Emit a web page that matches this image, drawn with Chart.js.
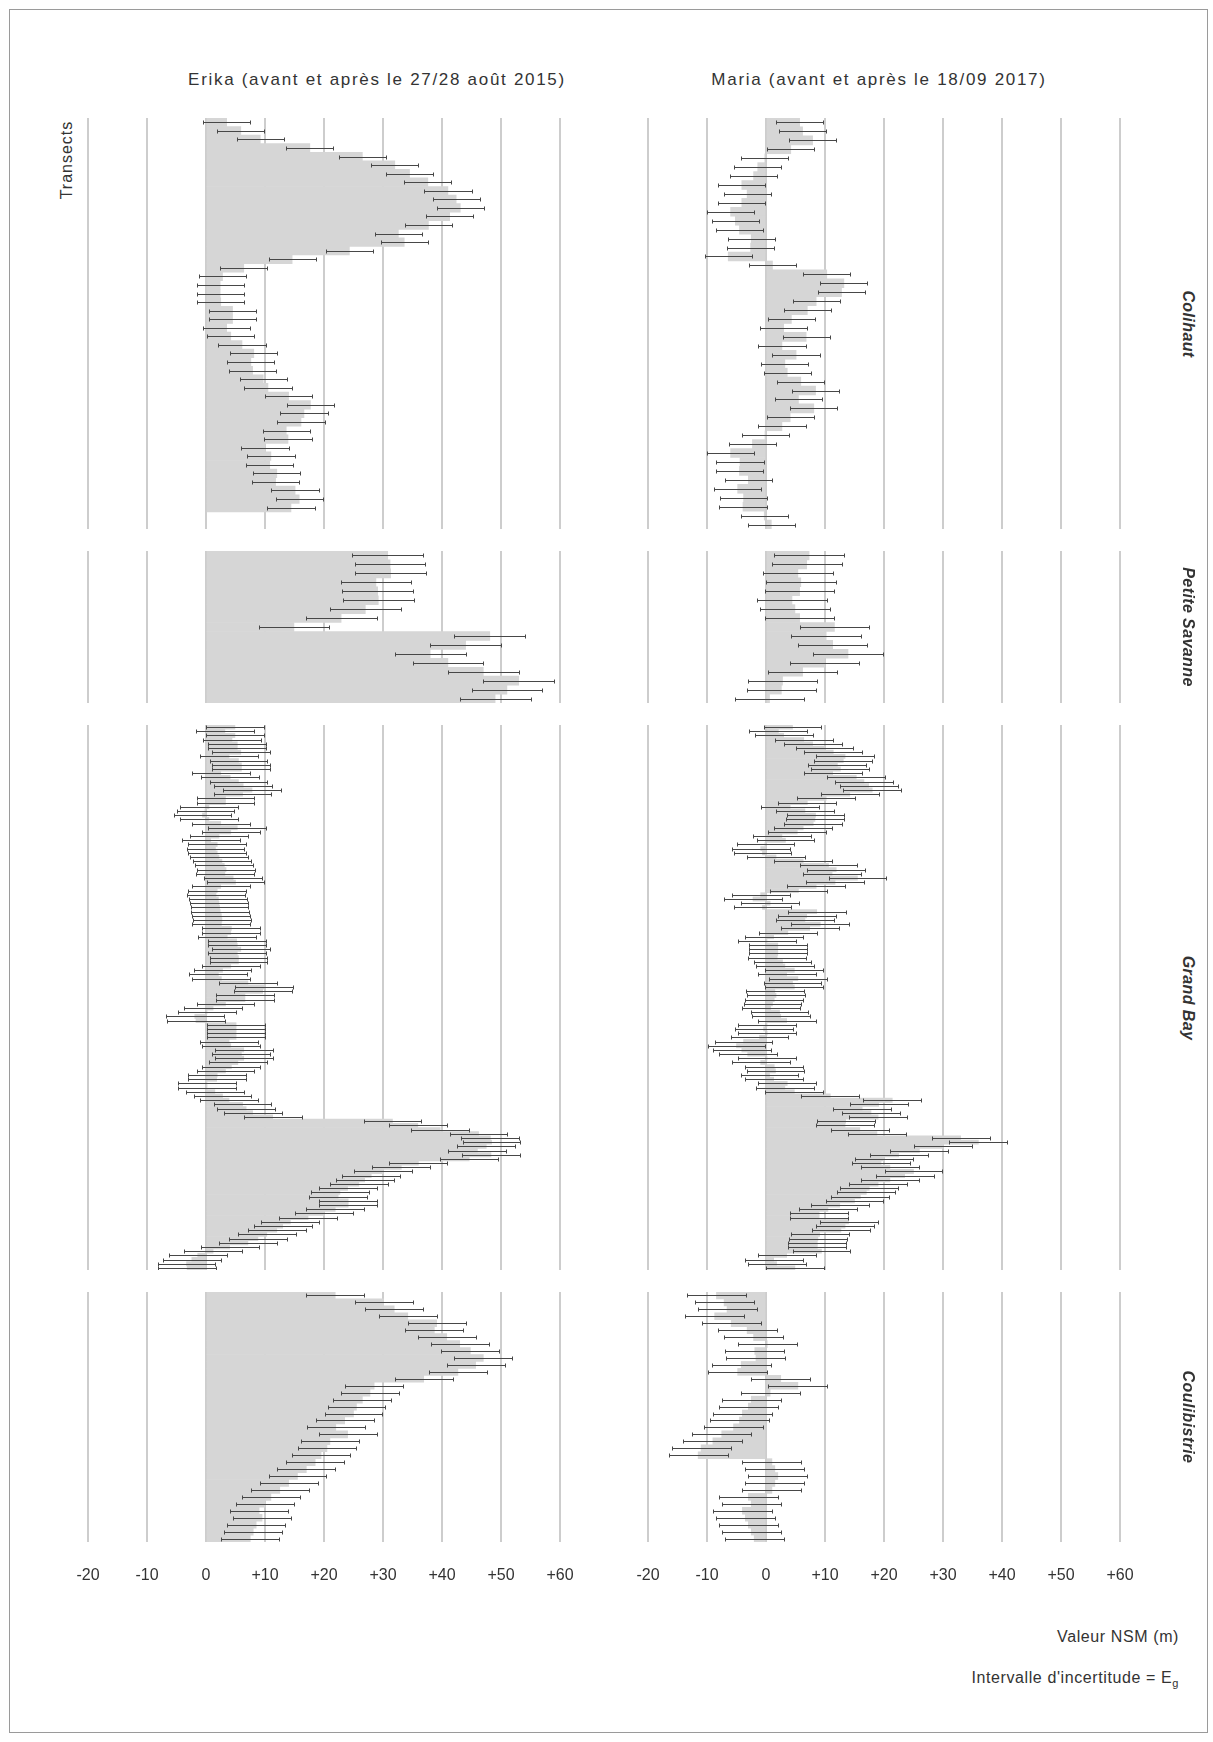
<!DOCTYPE html>
<html lang="fr">
<head>
<meta charset="utf-8">
<title>NSM Erika / Maria</title>
<script src="https://cdn.jsdelivr.net/npm/chart.js@4.4.1/dist/chart.umd.min.js"></script>
<style>
  body { margin: 0; background: #fff; }
  #fig { position: relative; width: 1213px; height: 1742px; font-family: "Liberation Sans", Arial, sans-serif; color: #333; }
  #frame { position: absolute; left: 9px; top: 9px; width: 1197px; height: 1722px; border: 1px solid #9a9a9a; }
  .pan { position: absolute; }
  .txt { position: absolute; white-space: nowrap; font-size: 16px; letter-spacing: 0.6px; }
  .title { font-size: 17px; letter-spacing: 1.7px; }
  .site { position: absolute; white-space: nowrap; font-size: 16px; font-style: italic; font-weight: bold;
          letter-spacing: 0.4px; transform: translate(-50%, -50%) rotate(90deg); }
</style>
</head>
<body>
<div id="fig">
  <div id="frame"></div>
  <div class="txt title" style="left:377px;top:80px;transform:translate(-50%,-50%)">Erika (avant et après le 27/28 août 2015)</div>
  <div class="txt title" style="left:879px;top:80px;transform:translate(-50%,-50%)">Maria (avant et après le 18/09 2017)</div>
  <div class="txt" style="left:67px;top:160px;transform:translate(-50%,-50%) rotate(-90deg);letter-spacing:1px">Transects</div>
  <div class="txt" style="right:34px;top:1628px">Valeur NSM (m)</div>
  <div class="txt" style="right:34px;top:1669px">Intervalle d'incertitude = E<sub style="font-size:11px">g</sub></div>
</div>
<script>
// NSM values per transect (m), read top to bottom
const colihautErika = [3.5, 5.9, 9.2, 17.6, 26.5, 32.0, 34.5, 37.6, 41.0, 42.4, 43.1, 41.3, 37.7, 32.6, 33.6, 24.3,
  14.6, 6.4, 2.8, 2.4, 2.4, 2.5, 4.5, 4.5, 3.5, 4.2, 6.1, 8.1, 7.6, 7.9, 9.7, 10.5, 14.0, 17.7, 16.6, 16.1, 13.6,
  13.9, 10.0, 11.0, 10.8, 12.0, 11.8, 15.1, 15.8, 14.4, null, null];
const colihautMaria = [5.7, 6.2, 7.9, 4.2, -0.2, -1.4, -2.1, -4.1, -3.2, -4.1, -6.0, -5.2, -4.5, -2.5, -2.6, -6.4,
  1.1, 10.3, 13.2, 12.8, 8.5, 7.0, 4.3, 3.0, 6.8, 2.7, 5.1, 3.2, 3.6, 5.9, 8.4, 5.5, 8.1, 4.1, 2.7, -0.1, -2.3,
  -6.0, -4.4, -4.5, -3.0, -4.8, -3.8, -3.9, -0.3, 0.9];

const petiteSavanneErika = [30.8, 31.2, 31.3, 28.8, 29.1, 29.2, 27.0, 22.9, 14.9, 48.1, 44.0, 38.0, 41.0, 47.0,
  53.0, 51.0, 49.0];
const petiteSavanneMaria = [7.3, 6.9, 5.4, 5.9, 5.7, 4.4, 4.9, 5.7, 11.6, 10.2, 11.3, 13.9, 9.9, 6.2, 2.8, 2.6, 0.6];

const grandBayErika = [4.9, 3.2, 4.9, 4.4, 5.3, 5.3, 5.9, 3.9, 5.5, 6.0, 6.0, 2.5, 4.1, 5.5, 6.3, 7.8, 6.2, 3.3,
  3.3, 0.5, -0.1, -0.6, 0.5, 2.5, 5.3, 4.2, 2.2, 0.8, 1.9, 1.6, 1.9, 2.2, 2.7, 3.1, 3.4, 3.2, 4.6, 5.0, 2.5, 1.9,
  1.7, 2.1, 2.2, 2.3, 2.4, 2.6, 2.7, 2.6, 4.3, 4.2, 3.6, 5.2, 5.3, 5.9, 5.3, 5.5, 5.5, 4.2, 2.8, 2.1, 2.6, 7.1,
  9.8, 9.6, 6.6, 6.6, 3.3, 1.2, 0.1, -1.9, -1.7, 5.1, 5.1, 5.1, 5.1, 3.9, 4.2, 6.4, 6.0, 6.4, 5.4, 4.3, 3.3, 1.9,
  1.8, 0.1, 0.1, 1.5, 2.8, 3.9, 6.2, 6.8, 7.9, 11.3, 31.6, 35.9, 39.7, 46.2, 48.2, 48.4, 47.5, 46.0, 48.3, 44.6,
  36.0, 33.1, 30.0, 28.0, 26.9, 25.9, 24.0, 22.7, 22.4, 24.1, 24.1, 21.9, 20.0, 17.3, 14.3, 13.0, 12.0, 10.3, 8.8,
  7.1, 4.0, 1.2, -1.4, -2.4, -3.3, -3.2];
const grandBayMaria = [4.5, 2.1, 3.0, 6.4, 7.9, 9.9, 11.4, 13.4, 13.1, 12.1, 12.6, 11.3, 15.3, 16.6, 17.4, 18.0,
  14.2, 10.2, 7.0, 4.1, 6.6, 8.4, 8.3, 8.0, 6.3, 5.3, 2.7, 3.3, -0.1, -0.9, -0.6, 1.7, 6.3, 10.6, 11.9, 11.2,
  15.5, 11.7, 8.5, 5.5, -0.9, -2.2, 0.7, -0.6, 8.6, 6.9, 6.6, 9.2, 7.4, 3.7, 1.3, 0.1, 2.0, 2.0, 2.0, 1.9, 2.8,
  3.2, 4.8, 3.5, 5.4, 4.5, 4.8, 1.5, 1.7, 1.4, 1.1, 0.8, 2.3, 2.5, 3.5, 0.1, -0.4, 0.2, -1.1, -3.8, -5.0, -4.1,
  -3.1, 0.1, -0.9, 1.4, 1.6, 0.6, 1.3, 3.6, 3.2, 4.8, 10.9, 21.4, 19.1, 16.3, 17.8, 19.0, 13.5, 13.4, 15.9, 18.8,
  33.0, 36.0, 30.0, 26.0, 22.5, 20.0, 19.5, 21.0, 25.0, 23.5, 21.0, 19.0, 17.5, 17.0, 16.0, 15.0, 12.5, 10.5,
  9.0, 9.0, 14.0, 13.4, 12.7, 9.1, 8.8, 8.7, 8.7, 9.4, 3.5, 1.3, 1.8, 4.9];

const coulibistrieErika = [21.9, 30.1, 31.9, 34.2, 39.1, 38.7, 40.8, 43.0, 44.8, 47.0, 45.7, 42.7, 36.9, 28.5,
  27.8, 26.5, 25.5, 25.0, 23.5, 22.0, 24.0, 21.0, 20.5, 19.5, 18.5, 17.0, 15.5, 14.0, 12.5, 11.0, 10.0, 9.0, 9.5,
  8.5, 8.0, 7.5];
const coulibistrieMaria = [-8.4, -7.1, -6.6, -8.7, -5.9, -3.2, -2.1, 0.2, -1.9, -1.7, -4.2, -4.8, 2.5, 5.4, 0.7,
  -2.5, -3.0, -4.0, -4.5, -5.5, -7.5, -9.0, -11.0, -11.5, 1.0, 1.5, 2.0, 1.5, 1.0, -3.0, -2.5, -4.0, -3.5, -3.0,
  -2.5, -2.0];

// half-width of the uncertainty interval (Eg), per panel
const egErika = [4.0, 6.0, 4.9, 4.9];
const egMaria = [4.0, 5.9, 4.9, 5.0];

const sites = ['Colihaut', 'Petite Savanne', 'Grand Bay', 'Coulibistrie'];
const xTicks = [-20, -10, 0, 10, 20, 30, 40, 50, 60];

// panel layout (px)
const rowBox = [
  { top: 118, h: 411 },
  { top: 551, h: 152 },
  { top: 725, h: 545 },
  { top: 1292, h: 250 }
];
const pad = 45;
const colLeft = [88 - pad, 648 - pad];
const colW = 472 + 2 * pad;
const tickBand = 60;

const errorBars = {
  id: 'errorBars',
  afterDatasetsDraw(chart, args, opts) {
    const ctx = chart.ctx;
    const x = chart.scales.x;
    const vals = chart.data.datasets[0].data;
    const meta = chart.getDatasetMeta(0);
    ctx.save();
    ctx.strokeStyle = '#474747';
    ctx.lineWidth = 1;
    meta.data.forEach((bar, i) => {
      const v = vals[i];
      if (v === null || v === undefined) return;
      const x0 = Math.round(x.getPixelForValue(v - opts.eg)) + 0.5;
      const x1 = Math.round(x.getPixelForValue(v + opts.eg)) + 0.5;
      const y = Math.round(bar.y) + 0.5;
      ctx.beginPath();
      ctx.moveTo(x0, y); ctx.lineTo(x1, y);
      ctx.moveTo(x0, y - 2); ctx.lineTo(x0, y + 2);
      ctx.moveTo(x1, y - 2); ctx.lineTo(x1, y + 2);
      ctx.stroke();
    });
    ctx.restore();
  }
};

const fig = document.getElementById('fig');

function panel(values, eg, col, row, last) {
  const box = rowBox[row];
  const h = box.h + (last ? tickBand : 0);
  const wrap = document.createElement('div');
  wrap.className = 'pan';
  wrap.style.left = colLeft[col] + 'px';
  wrap.style.top = box.top + 'px';
  wrap.style.width = colW + 'px';
  wrap.style.height = h + 'px';
  const cv = document.createElement('canvas');
  cv.width = colW; cv.height = h;
  cv.style.width = colW + 'px'; cv.style.height = h + 'px';
  wrap.appendChild(cv);
  fig.appendChild(wrap);

  new Chart(cv, {
    type: 'bar',
    data: {
      labels: values.map((_, i) => i + 1),
      datasets: [{
        data: values,
        backgroundColor: '#d6d6d6',
        borderWidth: 0,
        barPercentage: 1,
        categoryPercentage: 1
      }]
    },
    options: {
      indexAxis: 'y',
      responsive: false,
      animation: false,
      devicePixelRatio: 1,
      layout: { padding: { left: pad, right: pad, top: 0, bottom: 0 } },
      plugins: {
        legend: { display: false },
        tooltip: { enabled: false },
        errorBars: { eg: eg }
      },
      scales: {
        x: {
          min: -20, max: 60,
          afterBuildTicks: s => { s.ticks = xTicks.map(v => ({ value: v })); },
          afterFit: s => { s.height = last ? tickBand : 0; },
          ticks: {
            display: last,
            padding: 24,
            color: '#333',
            font: { family: '"Liberation Sans", Arial, sans-serif', size: 16 },
            callback: v => (v > 0 ? '+' + v : String(v))
          },
          grid: { color: '#cdcdcd', lineWidth: 2, drawTicks: false },
          border: { display: false }
        },
        y: { display: false }
      }
    },
    plugins: [errorBars]
  });
}

const erika = [colihautErika, petiteSavanneErika, grandBayErika, coulibistrieErika];
const maria = [colihautMaria, petiteSavanneMaria, grandBayMaria, coulibistrieMaria];

sites.forEach((name, r) => {
  const last = r === sites.length - 1;
  panel(erika[r], egErika[r], 0, r, last);
  panel(maria[r], egMaria[r], 1, r, last);
  const lab = document.createElement('div');
  lab.className = 'site';
  lab.textContent = name;
  lab.style.left = '1188px';
  lab.style.top = (rowBox[r].top + rowBox[r].h / 2) + 'px';
  fig.appendChild(lab);
});
</script>
</body>
</html>
